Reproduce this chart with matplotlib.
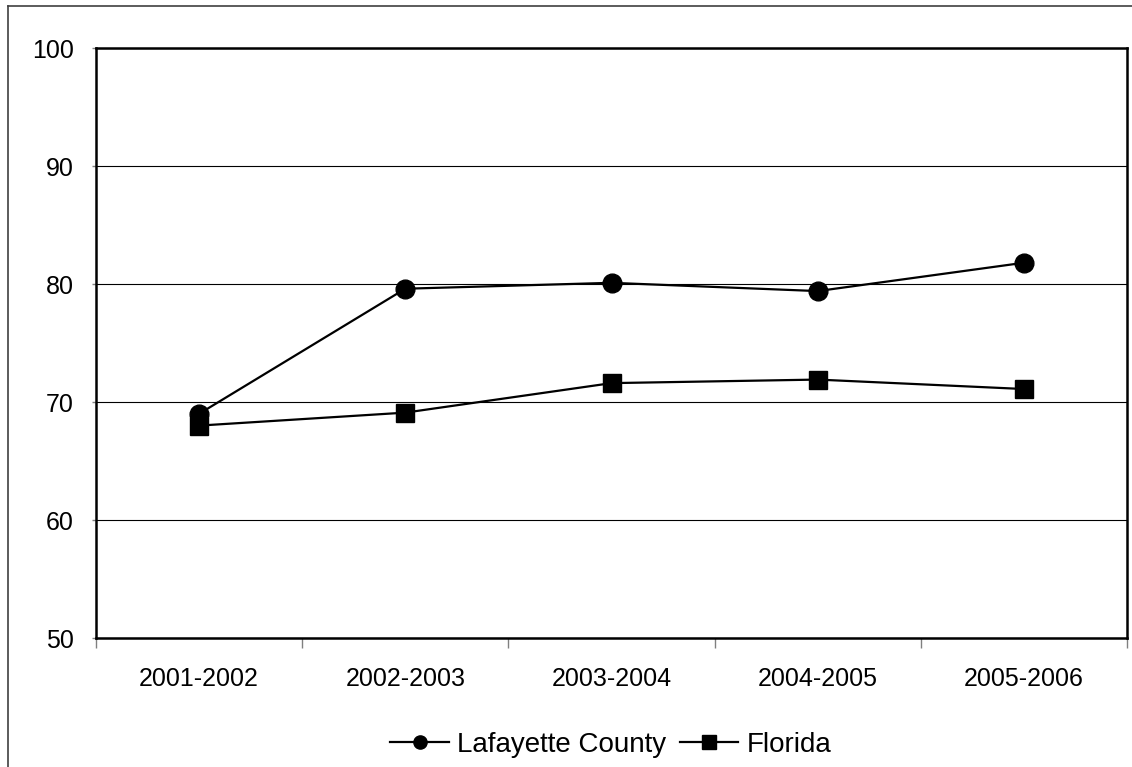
import matplotlib
matplotlib.use("Agg")
from matplotlib import pyplot as plt
from matplotlib.lines import Line2D
from matplotlib.ticker import FixedLocator

years = ["2001-2002", "2002-2003", "2003-2004", "2004-2005", "2005-2006"]
lafayette = [69.0, 79.6, 80.1, 79.4, 81.8]
florida = [68.0, 69.1, 71.6, 71.9, 71.1]
y_ticks = [50, 60, 70, 80, 90, 100]

plt.rcParams['font.family'] = ['Liberation Sans', 'DejaVu Sans']

fig = plt.figure(figsize=(11.32, 7.67), dpi=100)
ax = fig.add_axes([96 / 1132, 1 - 638 / 767, (1127 - 96) / 1132, (638 - 48) / 767])

x = list(range(len(years)))
ax.plot(x, lafayette, color='black', lw=1.6, marker='o', ms=13.5,
        label='Lafayette County', zorder=3)
ax.plot(x, florida, color='black', lw=1.6, marker='s', ms=13,
        label='Florida', zorder=3)

ax.set_xlim(-0.5, len(years) - 0.5)
ax.set_ylim(50, 100)
ax.set_yticks(y_ticks)
ax.set_yticklabels([str(v) for v in y_ticks])
ax.set_xticks(x)
ax.set_xticklabels(years)
ax.xaxis.set_minor_locator(FixedLocator([i - 0.5 for i in range(len(years) + 1)]))

ax.tick_params(axis='x', which='major', length=0, pad=21, labelsize=18)
ax.tick_params(axis='x', which='minor', length=7, width=1, color='#808080', direction='out')
ax.tick_params(axis='y', which='major', length=3, width=1, color='#808080', pad=13, labelsize=18)

ax.grid(axis='y', color='black', lw=0.8)
ax.set_axisbelow(True)
for sp in ax.spines.values():
    sp.set_linewidth(1.8)
    sp.set_color('black')

handles = [
    Line2D([], [], color='black', lw=1.6, marker='o', ms=9.5),
    Line2D([], [], color='black', lw=1.6, marker='s', ms=9.5),
]
fig.legend(handles, ['Lafayette County', 'Florida'], loc='center',
           bbox_to_anchor=(611 / 1132, 1 - 745 / 767), ncol=2, frameon=False,
           fontsize=20, handlelength=2.1, handletextpad=0.3, columnspacing=0.5)

# outer chart border (top and left edges visible)
fig.add_artist(Line2D([8 / 1132, 8 / 1132], [0, 1 - 6 / 767], transform=fig.transFigure,
                      color='#404040', lw=1.2))
fig.add_artist(Line2D([8 / 1132, 1], [1 - 6 / 767, 1 - 6 / 767], transform=fig.transFigure,
                      color='#404040', lw=1.2))

fig.savefig('out.png', dpi=100)
